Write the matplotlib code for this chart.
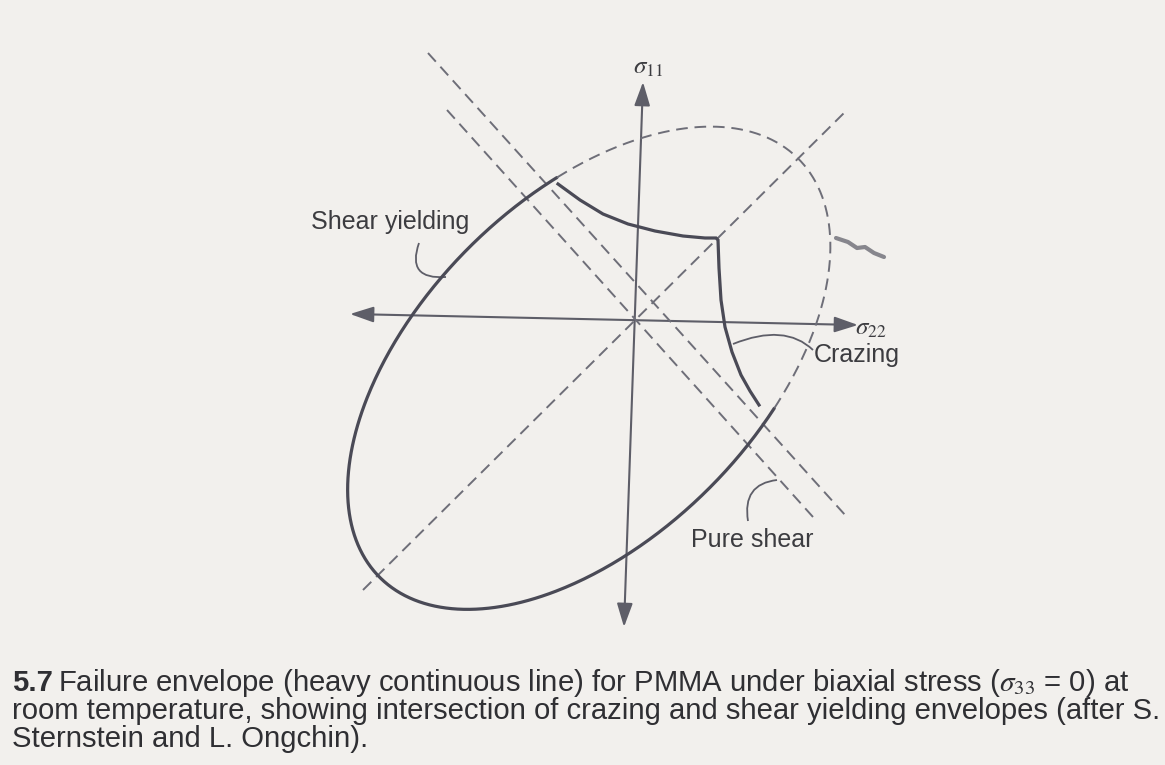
import numpy as np
import matplotlib
matplotlib.use("Agg")
import matplotlib.pyplot as plt
from matplotlib.patches import FancyArrowPatch, PathPatch
from matplotlib.path import Path

# ---- diagram geometry (page pixel coordinates, y grows downward) ----
ORIGIN = (636, 322)
SIGMA22_AXIS = [(350, 314), (858, 325)]
SIGMA11_AXIS = [(643, 82), (624, 627)]

# dashed reference lines
EQUIBIAXIAL_LINE = [(363, 590), (847, 110)]     # sigma11 = sigma22
PURE_SHEAR_LINE = [(447, 110), (813, 517)]      # sigma11 = -sigma22
OFFSET_SHEAR_LINE = [(428, 53), (846, 516)]

# pressure-modified von Mises ellipse
ELLIPSE_CENTER = (589, 368)
ELLIPSE_SEMI_AXES = (296, 170)
ELLIPSE_TILT_DEG = 45

# crazing envelope between its two intersections with the ellipse
CRAZE_X = [558, 580, 603, 628, 655, 683, 705, 716, 718, 719, 721, 725, 732, 741, 750, 759]
CRAZE_Y = [184, 200, 214, 224, 231, 236, 238, 238, 240, 268, 300, 327, 352, 375, 391, 405]

# leader curves: start, control, end
SHEAR_LEADER = [(419, 243), (406, 280), (446, 277)]
CRAZE_LEADER = [(813, 350), (785, 323), (733, 344)]
PURE_SHEAR_LEADER = [(748, 521), (742, 484), (777, 480)]

# stray pen mark on the page
SMUDGE_X = [836, 848, 857, 865, 874, 884]
SMUDGE_Y = [238, 242, 248, 247, 253, 257]

LABELS = ["Shear yielding", "Crazing", "Pure shear"]
AXIS_LABELS = [r"$\sigma_{11}$", r"$\sigma_{22}$"]
CAPTION_NUMBER = "5.7"
CAPTION_LINES = [
    r"Failure envelope (heavy continuous line) for PMMA under biaxial stress ($\sigma_{33}$ = 0) at",
    "room temperature, showing intersection of crazing and shear yielding envelopes (after S.",
    "Sternstein and L. Ongchin).",
]

PAPER = "#f2f0ed"
INK = "#4a4a56"
THIN = "#5e5e68"
DASH = "#6e6e78"
TEXT = "#3c3c40"
CAPTION_INK = "#2f2f33"

plt.rcParams["font.family"] = ["Liberation Sans", "DejaVu Sans"]
plt.rcParams["mathtext.fontset"] = "stix"

fig = plt.figure(figsize=(11.65, 7.65), dpi=100)
fig.patch.set_facecolor(PAPER)
ax = fig.add_axes([0, 0, 1, 1])
ax.set_xlim(0, 1165)
ax.set_ylim(765, 0)
ax.axis("off")

# axes with arrowheads at both ends
for (p0, p1) in (SIGMA22_AXIS, SIGMA11_AXIS):
    ax.add_patch(FancyArrowPatch(p0, p1, arrowstyle="<|-|>,head_length=0.9,head_width=0.3",
                                 mutation_scale=16, color=THIN, lw=1.5,
                                 shrinkA=0, shrinkB=0))

# dashed straight lines
for (p0, p1) in (EQUIBIAXIAL_LINE, PURE_SHEAR_LINE, OFFSET_SHEAR_LINE):
    ax.plot([p0[0], p1[0]], [p0[1], p1[1]], color=DASH, lw=1.4,
            linestyle=(0, (6, 3.5)))

# ellipse: solid on the compressive side, dashed beyond the crazing envelope
cx, cy = ELLIPSE_CENTER
a, b = ELLIPSE_SEMI_AXES
t = np.deg2rad(ELLIPSE_TILT_DEG)
u = np.array([np.cos(t), -np.sin(t)])
v = np.array([np.sin(t), np.cos(t)])


def ellipse_angle(px, py):
    rel = np.array([px - cx, py - cy])
    return np.arctan2(rel @ v / b, rel @ u / a)


def ellipse_points(phi0, phi1, n=400):
    phi = np.linspace(phi0, phi1, n)
    x = cx + a * np.cos(phi) * u[0] + b * np.sin(phi) * v[0]
    y = cy + a * np.cos(phi) * u[1] + b * np.sin(phi) * v[1]
    return x, y


phi_a = ellipse_angle(CRAZE_X[0], CRAZE_Y[0])
phi_c = ellipse_angle(CRAZE_X[-1], CRAZE_Y[-1])
xs, ys = ellipse_points(phi_c, phi_a + 2 * np.pi)
ax.plot(xs, ys, color=INK, lw=2.3, solid_capstyle="round")
xd, yd = ellipse_points(phi_a, phi_c)
ax.plot(xd, yd, color=DASH, lw=1.4, linestyle=(0, (6, 3.5)))

# crazing envelope
ax.plot(CRAZE_X, CRAZE_Y, color=INK, lw=2.3, solid_joinstyle="miter")

# leader lines
for pts in (SHEAR_LEADER, CRAZE_LEADER, PURE_SHEAR_LEADER):
    path = Path(pts, [Path.MOVETO, Path.CURVE3, Path.CURVE3])
    ax.add_patch(PathPatch(path, fill=False, edgecolor=THIN, lw=1.3))

ax.plot(SMUDGE_X, SMUDGE_Y, color="#74747c", lw=3.0, solid_capstyle="round", alpha=0.85)

# labels
ax.text(390, 222, LABELS[0], fontsize=18, color=TEXT, ha="center", va="center")
ax.text(857, 355, LABELS[1], fontsize=18, color=TEXT, ha="center", va="center")
ax.text(752, 540, LABELS[2], fontsize=18, color=TEXT, ha="center", va="center")
ax.text(648, 67, AXIS_LABELS[0], fontsize=18, color=TEXT, ha="center", va="center")
ax.text(871, 328, AXIS_LABELS[1], fontsize=18, color=TEXT, ha="center", va="center")

# caption, sized so the full-width line runs to the right edge of the text block
cap_num = ax.text(12, 683, CAPTION_NUMBER, fontsize=20, fontweight="bold",
                  color=CAPTION_INK, ha="left", va="center")
cap_texts = [ax.text(58, 683, CAPTION_LINES[0], fontsize=20,
                     color=CAPTION_INK, ha="left", va="center")]
for i, line in enumerate(CAPTION_LINES[1:]):
    cap_texts.append(ax.text(12, 711 + 28 * i, line, fontsize=20,
                             color=CAPTION_INK, ha="left", va="center"))

fig.canvas.draw()
renderer = fig.canvas.get_renderer()
width = cap_texts[1].get_window_extent(renderer).width
scale = (1157 - 12) / width
for txt in cap_texts + [cap_num]:
    txt.set_fontsize(20 * scale)

fig.savefig("out.png", dpi=100, facecolor=PAPER)
